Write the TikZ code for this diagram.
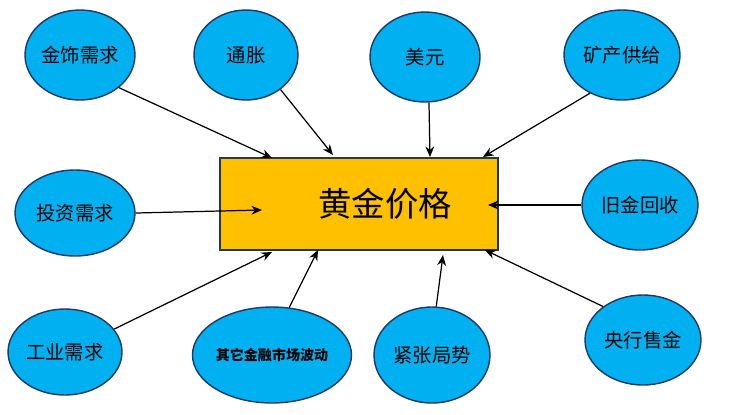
\documentclass[tikz,border=0pt]{standalone}
\usepackage{fontspec}
\setmainfont{Noto Sans CJK SC}
\usetikzlibrary{shapes.geometric,arrows.meta}
\definecolor{skyfill}{HTML}{00B0F0}
\definecolor{rimblue}{HTML}{1F3864}
\definecolor{goldfill}{HTML}{FFC000}
\tikzset{
  factor/.style={ellipse, draw=rimblue, line width=0.8pt, fill=skyfill, inner sep=0pt, font=\fontsize{11}{13}\selectfont},
  pull/.style={-{Stealth[length=6pt,width=5pt]}, line width=0.7pt}
}
\begin{document}
\begin{tikzpicture}[x=0.02cm,y=-0.02cm]
\useasboundingbox (0,0) rectangle (734,414);

% Draw the price box
\node[draw=rimblue, line width=0.8pt, fill=goldfill, minimum width=5.56cm, minimum height=1.84cm] (price) at (359,204) {};
\node[font=\fontsize{19}{23}\selectfont] (title) at (385,204) {黄金价格};

% Draw the factors
\node[factor, minimum width=2.2cm, minimum height=1.8cm] (jewel) at (80,55) {金饰需求};
\node[factor, minimum width=2.08cm, minimum height=1.8cm] (infl) at (246,55) {通胀};
\node[factor, minimum width=2.2cm, minimum height=1.8cm] (usd) at (425,57) {美元};
\node[factor, minimum width=2.32cm, minimum height=1.8cm] (mine) at (622,55) {矿产供给};
\node[factor, minimum width=2.4cm, minimum height=1.72cm] (invest) at (75,213) {投资需求};
\node[factor, minimum width=2.32cm, minimum height=1.8cm] (scrap) at (640,205) {旧金回收};
\node[factor, minimum width=2.28cm, minimum height=1.72cm] (industry) at (65,352) {工业需求};
\node[factor, minimum width=2.6cm, minimum height=1.92cm, font=\fontsize{8}{10}\selectfont\bfseries] (market) at (272,355) {其它金融市场波动};
\node[factor, minimum width=2.32cm, minimum height=1.92cm] (tension) at (432,355) {紧张局势};
\node[factor, minimum width=2.32cm, minimum height=1.8cm] (bank) at (643,340) {央行售金};

% Draw the arrow ends on the box
\coordinate (e1) at (272,158);
\coordinate (e2) at (333,155);
\coordinate (e3) at (430,157);
\coordinate (e4) at (483,157);
\coordinate (e5) at (262,210);
\coordinate (e6) at (488,205);
\coordinate (e7) at (272,252);
\coordinate (e8) at (318,250);
\coordinate (e9) at (443,255);
\coordinate (e10) at (485,250);

% Draw the arrows
\draw[pull] (jewel.-40) -- (e1);
\draw[pull] (infl.-45) -- (e2);
\draw[pull] (usd.-85) -- (e3);
\draw[pull] (mine.-130) -- (e4);
\draw[pull] (invest.east) -- (e5);
\draw[pull] (scrap.west) -- (e6);
\draw[pull] (industry.25) -- (e7);
\draw[pull] (market.70) -- (e8);
\draw[pull] (tension.85) -- (e9);
\draw[pull] (bank.140) -- (e10);
\end{tikzpicture}
\end{document}
